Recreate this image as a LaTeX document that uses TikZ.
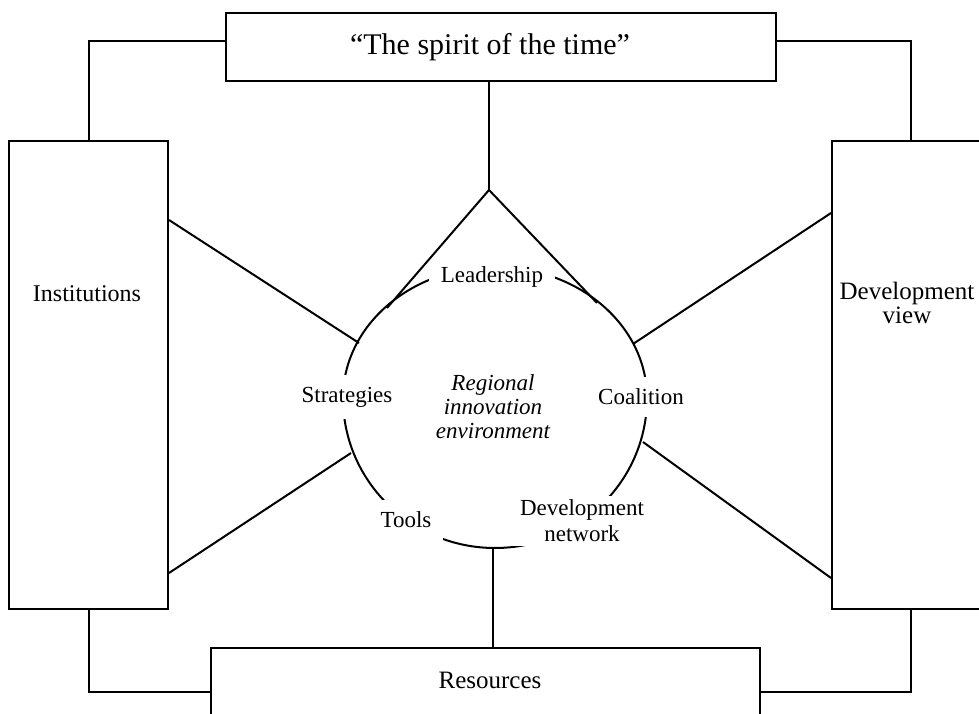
\documentclass[tikz,border=0pt]{standalone}
\usepackage{fontspec}
\setmainfont{Liberation Serif}
\usepackage{tikz}

\begin{document}
\begin{tikzpicture}[x=0.5pt, y=0.5pt, line width=1pt, font=\fontsize{11.5}{13}\selectfont]
        \useasboundingbox (0,0) rectangle (979,713);
        \clip (0,0) rectangle (979,713);
        \begin{scope}[every node/.style={draw, rectangle, inner sep=0}]
                \node[minimum width=275pt, minimum height=34pt] (spirit) at (501,666) {};
                \node[minimum width=79.5pt, minimum height=234pt] (inst) at (88.5,338) {};
                \node[minimum width=84pt, minimum height=234pt] (devview) at (916,338) {};
                \node[minimum width=274.5pt, minimum height=36pt] (res) at (485.5,29) {};
        \end{scope}
        \begin{scope}[every node/.style={align=center, font=\fontsize{12.5}{12}\selectfont}]
                \node[font=\fontsize{15}{15}\selectfont] (spirittext) at (490,666) {“The spirit of the time”};
                \node[font=\fontsize{12}{12}\selectfont] (insttext) at (87,419) {Institutions};
                \node (devtext) at (907,410) {Development\\view};
                \node (restext) at (490,33) {Resources};
        \end{scope}
        % the environment
        \draw (343,315) arc[start angle=180, end angle=0, x radius=152, y radius=131]
                arc[start angle=0, end angle=-180, x radius=152, y radius=150];
        \coordinate (apex) at (489,523);
        \coordinate (lead1) at (387,405);
        \coordinate (lead2) at (597,410);
        \coordinate (strat1) at (359,370);
        \coordinate (strat2) at (351,260);
        \coordinate (coal1) at (633,369);
        \coordinate (coal2) at (643,271);
        \coordinate (net) at (493,166);
        \coordinate (tl) at (89,672);
        \coordinate (tr) at (911,672);
        \coordinate (bl) at (89,21);
        \coordinate (br) at (911,21);
        \begin{scope}[every node/.style={fill=white, inner sep=6pt, align=center}]
                \node (lead) at (492,436) {Leadership};
                \node (strat) at (347,316) {Strategies};
                \node (coal) at (641,316) {Coalition};
                \node (tools) at (406,193) {Tools};
                \node[inner ysep=2pt] (network) at (582,192) {Development\\network};
        \end{scope}
        \node[align=center, font=\fontsize{11.5}{12}\selectfont\itshape] (rie) at (493,306) {Regional\\innovation\\environment};
        \begin{scope}[every path/.style={line join=miter}]
                \draw (spirit.west |- tl) -- (tl) -- (inst.north -| tl);
                \draw (spirit.east |- tr) -- (tr) -- (devview.north -| tr);
                \draw (inst.south -| bl) -- (bl) -- (res.west |- bl);
                \draw (devview.south -| br) -- (br) -- (res.east |- br);
                \draw (spirit.south -| apex) -- (apex);
                \draw (lead1) -- (apex) -- (lead2);
                \draw ([yshift=77.5pt]inst.east) -- (strat1);
                \draw ([yshift=-99pt]inst.east) -- (strat2);
                \draw ([yshift=81pt]devview.west) -- (coal1);
                \draw ([yshift=-101.5pt]devview.west) -- (coal2);
                \draw[line width=1.4pt] (net) -- (res.north -| net);
        \end{scope}
\end{tikzpicture}
\end{document}
